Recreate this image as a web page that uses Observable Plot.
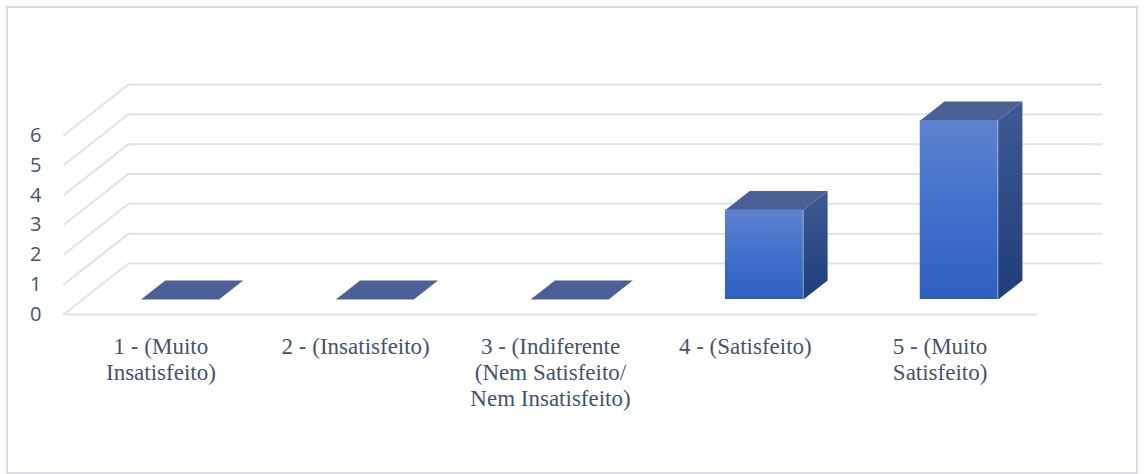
<!DOCTYPE html>
<html><head><meta charset="utf-8">
<script src="https://cdn.jsdelivr.net/npm/d3@7"></script>
<script src="https://cdn.jsdelivr.net/npm/@observablehq/plot@0.6"></script>
<style>
html,body{margin:0;padding:0;background:#fff;}
#wrap{position:relative;width:1144px;height:474px;overflow:hidden;background:#fff;}
#wrap svg{position:absolute;left:0;top:0;}
#border{position:absolute;left:6px;top:6px;width:1132px;height:468px;border:2px solid #dadee4;box-sizing:border-box;pointer-events:none;}
</style></head><body><div id="wrap"><div id="border"></div></div>
<script>
// ---- data ----
const categories = ["1 - (Muito Insatisfeito)", "2 - (Insatisfeito)", "3 - (Indiferente (Nem Satisfeito/ Nem Insatisfeito)", "4 - (Satisfeito)", "5 - (Muito Satisfeito)"];
const tickLabels = ["1 - (Muito\nInsatisfeito)", "2 - (Insatisfeito)", "3 - (Indiferente\n(Nem Satisfeito/\nNem Insatisfeito)", "4 - (Satisfeito)", "5 - (Muito\nSatisfeito)"];
const values = [0, 0, 0, 3, 6];
const yTicks = [0, 1, 2, 3, 4, 5, 6];

// ---- oblique 3D projection (in data units) ----
const DX = 0.3337;  // category units per full depth
const DY = 1.71;    // value units per full depth
const barW = 0.40;  // bar width (category units)
const d0 = 0.294, d1 = 0.667; // bar front/back depth fractions

const bars = categories.map((c, i) => ({c, i, v: values[i]}));

const front = bars.filter(b => b.v > 0).map(b => ({
  x1: b.i - barW / 2 + d0 * DX, x2: b.i + barW / 2 + d0 * DX,
  y1: d0 * DY, y2: b.v + d0 * DY
}));
const topFace = bars.flatMap(b => {
  const yf = b.v + d0 * DY, yb = b.v + d1 * DY;
  const xf = b.i - barW / 2 + d0 * DX, xb = b.i - barW / 2 + d1 * DX;
  return [{k: b.i, x: xf, y: yf}, {k: b.i, x: xf + barW, y: yf}, {k: b.i, x: xb + barW, y: yb}, {k: b.i, x: xb, y: yb}];
});
const sideFace = bars.filter(b => b.v > 0).flatMap(b => {
  const xf = b.i + barW / 2 + d0 * DX, xb = b.i + barW / 2 + d1 * DX;
  return [{k: b.i, x: xf, y: d0 * DY}, {k: b.i, x: xf, y: b.v + d0 * DY}, {k: b.i, x: xb, y: b.v + d1 * DY}, {k: b.i, x: xb, y: d1 * DY}];
});

const defs = () => {
  const g = d3.create("svg:g");
  const d = g.append("defs");
  const mk = (id, stops) => {
    const lg = d.append("linearGradient").attr("id", id).attr("x1", 0).attr("y1", 0).attr("x2", 0).attr("y2", 1);
    stops.forEach(([o, c]) => lg.append("stop").attr("offset", o).attr("stop-color", c));
  };
  mk("gFront", [[0, "#5e82cf"], [0.55, "#3f6fca"], [1, "#2f60be"]]);
  mk("gSide", [[0, "#3e5a96"], [1, "#1f3d79"]]);
  return g.node();
};

const gridColor = "#dfe3e9";
const textColor = "#44546a";

const chart = Plot.plot({
  width: 1144, height: 474,
  marginLeft: 63, marginRight: 107, marginTop: 135, marginBottom: 160,
  x: {domain: [-0.5, 4.5], axis: null},
  y: {domain: [0, 6], axis: null},
  style: {background: "transparent", overflow: "visible"},
  marks: [
    defs,
    // back wall gridlines
    Plot.ruleY(yTicks, {y: d => d + DY, x1: () => -0.5 + DX, x2: () => 4.5 + DX, stroke: gridColor, strokeWidth: 2}),
    // left wall diagonals
    Plot.link(yTicks, {x1: () => -0.5, y1: d => d, x2: () => -0.5 + DX, y2: d => d + DY, stroke: gridColor, strokeWidth: 2}),
    // front floor edge
    Plot.ruleY([0], {x1: () => -0.5, x2: () => 4.5, stroke: gridColor, strokeWidth: 2}),
    // bars
    Plot.line(sideFace, {x: "x", y: "y", z: "k", fill: "url(#gSide)", stroke: "none", curve: "linear"}),
    Plot.line(topFace, {x: "x", y: "y", z: "k", fill: "#4a6096", stroke: "none", curve: "linear"}),
    Plot.rect(front, {x1: "x1", x2: "x2", y1: "y1", y2: "y2", fill: "url(#gFront)"}),
    // y tick labels
    Plot.text(yTicks, {x: () => -0.5, y: d => d, text: d => String(d), dx: -22, textAnchor: "end",
      fontSize: 20, fontFamily: "'Open Sans', 'Liberation Sans', sans-serif", fill: textColor}),
    // category labels
    Plot.text(bars, {x: "i", y: () => 0, text: d => tickLabels[d.i], dy: 21, lineAnchor: "top", lineHeight: 1.13,
      textAnchor: "middle", fontSize: 23, fontFamily: "'Liberation Serif', 'Times New Roman', 'DejaVu Serif', serif", fill: textColor})
  ]
});
document.getElementById("wrap").insertBefore(chart, document.getElementById("border"));
</script>
</body></html>
